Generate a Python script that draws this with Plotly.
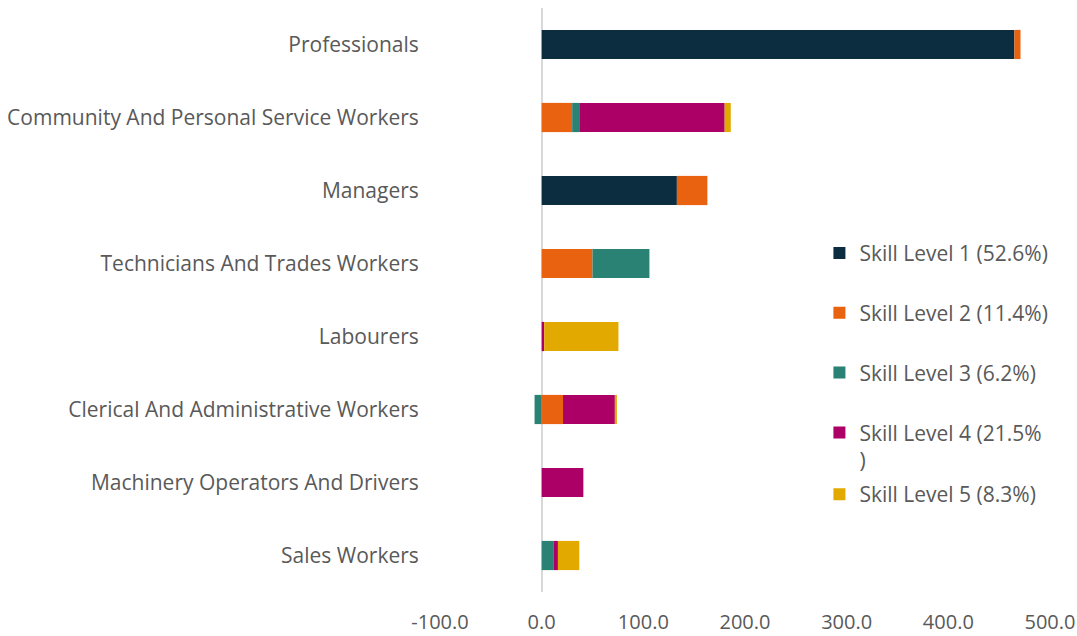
import plotly.graph_objects as go

categories = [
    'Professionals',
    'Community And Personal Service Workers',
    'Managers',
    'Technicians And Trades Workers',
    'Labourers',
    'Clerical And Administrative Workers',
    'Machinery Operators And Drivers',
    'Sales Workers',
]

skill_1 = [465, 0, 133, 0, 0, 0, 0, 0]
skill_2 = [6, 30, 30, 50, 0, 21, 0, 0]
skill_3 = [0, 7, 0, 56, 0, -7, 0, 12]
skill_4 = [0, 143, 0, 0, 2.5, 51, 41, 4]
skill_5 = [0, 6, 0, 0, 73, 2, 0, 21]

x_ticks = [-100, 0, 100, 200, 300, 400, 500]
x_tick_labels = ['-100.0', '0.0', '100.0', '200.0', '300.0', '400.0', '500.0']

names = [
    'Skill Level 1 (52.6%)',
    'Skill Level 2 (11.4%)',
    'Skill Level 3 (6.2%)',
    'Skill Level 4 (21.5%<br>)',
    'Skill Level 5 (8.3%)',
]
colors = ['#0C2C40', '#E8620F', '#2A8275', '#AC0067', '#E2A900']
series = [skill_1, skill_2, skill_3, skill_4, skill_5]

fig = go.Figure()
for i, (name, vals, col) in enumerate(zip(names, series, colors)):
    fig.add_trace(go.Bar(
        y=categories,
        x=vals,
        name=name,
        orientation='h',
        marker=dict(color=col, line=dict(width=0)),
        legendgroup='g%d' % i,
        legend='legend2' if i == 4 else 'legend',
        width=0.4,
    ))

legend_style = dict(
    xanchor='left',
    yanchor='top',
    traceorder='grouped',
    tracegroupgap=29.5,
    valign='top',
    bgcolor='rgba(0,0,0,0)',
    font=dict(size=21, color='#595959'),
    itemwidth=30,
)

fig.update_layout(
    barmode='relative',
    width=1077,
    height=636,
    margin=dict(l=440, r=27, t=8, b=44),
    paper_bgcolor='white',
    plot_bgcolor='white',
    font=dict(family='Open Sans', color='#595959', size=21),
    xaxis=dict(
        range=[-100, 500],
        tickvals=x_ticks,
        ticktext=x_tick_labels,
        showgrid=False,
        zeroline=True,
        zerolinecolor='#D9D9D9',
        zerolinewidth=2,
        showline=False,
        ticks='outside',
        ticklen=12,
        tickcolor='rgba(0,0,0,0)',
        automargin=False,
        tickfont=dict(size=20, color='#595959'),
    ),
    yaxis=dict(
        categoryorder='array',
        categoryarray=categories[::-1],
        showgrid=False,
        ticks='outside',
        ticklen=16,
        tickcolor='rgba(0,0,0,0)',
        automargin=False,
        tickfont=dict(size=21, color='#595959'),
    ),
    legend=dict(x=0.622, y=0.615, **legend_style),
    legend2=dict(x=0.622, y=0.202, **legend_style),
    bargap=0.6,
)

fig.write_html('out.html', config={'displayModeBar': False},
               post_script="document.body.style.margin='0';")
